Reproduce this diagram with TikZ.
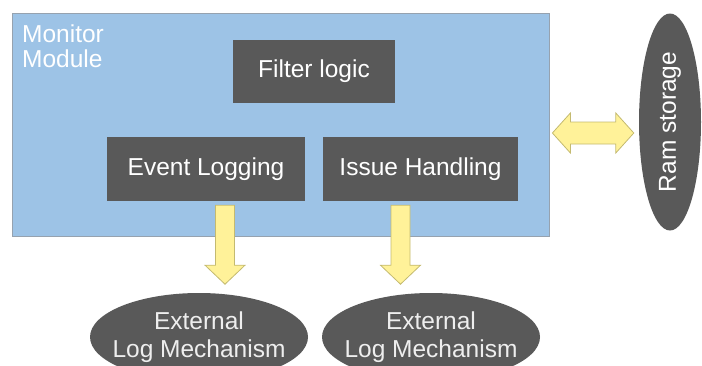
\documentclass[tikz,border=0pt]{standalone}
\usepackage{fontspec}
\setmainfont{Liberation Sans}
\usepackage{tikz}
\usetikzlibrary{calc,positioning,shapes.geometric}
\definecolor{cMod}{RGB}{157,195,230}
\definecolor{cModLine}{RGB}{150,162,175}
\definecolor{cBox}{RGB}{89,89,89}
\definecolor{cArw}{RGB}{255,242,153}
\definecolor{cArwLine}{RGB}{196,186,112}
\definecolor{cExtTxt}{RGB}{238,238,238}

\begin{document}
\begin{tikzpicture}[x=1pt,y=-1pt,
  txt/.style={font=\fontsize{24.5}{28}\selectfont},
  box/.style={txt,fill=cBox,text=white,inner sep=0,minimum height=64},
  ext/.style={ellipse,fill=cBox,inner sep=0,minimum width=218,minimum height=88},
  blkarrow/.style={fill=cArw,draw=cArwLine,line width=0.8pt,line join=miter}]
  \useasboundingbox (0,0) rectangle (702,365);
  \clip (0,0) rectangle (702,365);
  % monitor module
  \node[fill=cMod,draw=cModLine,line width=0.8pt,minimum width=537,minimum height=223,inner sep=0] (mon) at (280.5,124.5) {};
  \node[txt,text=white,align=left,anchor=north west,inner sep=0,font=\fontsize{24.5}{25}\selectfont] (monlbl) at (22,24.5) {Monitor\\Module};
  \node[box,minimum width=162,minimum height=63] (flt) at (314,71.5) {Filter logic};
  \node[box,minimum width=198] (evt) at (206,169) {Event Logging};
  \node[box,minimum width=195] (iss) at (420.5,169) {Issue Handling};
  % outside
  \node[ext] (ext1) at (199,337) {};
  \node[ext] (ext2) at (431,337) {};
  \foreach \e in {ext1,ext2}
    \node[txt,text=cExtTxt,align=center] at (\e) {External\\Log Mechanism};
  \node[ellipse,fill=cBox,text=white,txt,rotate=90,inner sep=0,minimum width=217,minimum height=62] (ram) at (670,122) {Ram storage};
  % block arrows
  \foreach \x/\n in {225/evt,400.5/iss} {
    \coordinate (top) at ([yshift=-4pt]\n.south -| \x,0);
    \draw[blkarrow] ($(top)+(-9.5,0)$) -- ++(19,0) -- ++(0,60) -- ++(10.5,0)
      -- ++(-20,19) -- ++(-20,-19) -- ++(10.5,0) -- cycle;
  }
  \coordinate (dl) at ([xshift=3pt]mon.east |- 0,133);
  \coordinate (dr) at ([xshift=-5pt]ram.north |- 0,133);
  \draw[blkarrow] (dl) -- ++(18,-20) -- ++(0,9) -- ($(dr)+(-18,-11)$) -- ++(0,-9)
    -- (dr) -- ++(-18,20) -- ++(0,-9) -- ($(dl)+(18,11)$) -- ++(0,9) -- cycle;
\end{tikzpicture}
\end{document}
